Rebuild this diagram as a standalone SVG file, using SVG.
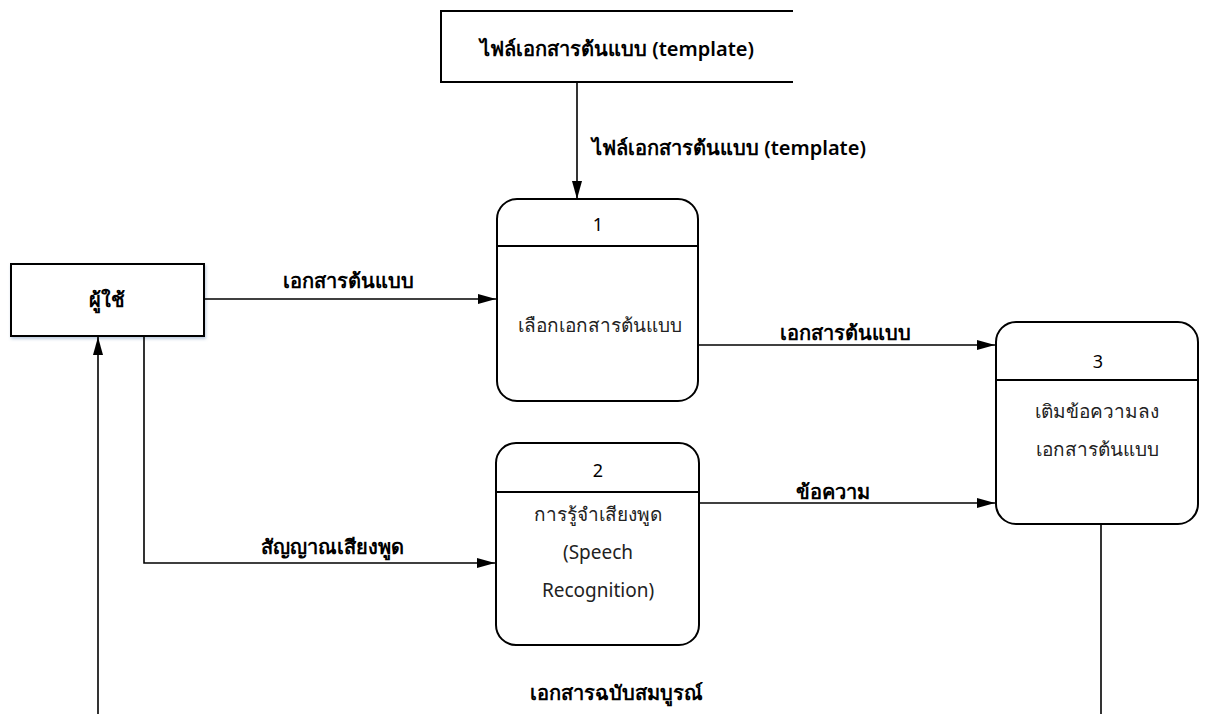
<svg xmlns="http://www.w3.org/2000/svg" width="1205" height="714" viewBox="0 0 1205 714">
<defs>
<marker id="ahv" markerWidth="18" markerHeight="10" refX="18" refY="5" orient="auto" markerUnits="userSpaceOnUse">
<path d="M0,0 L18,5 L0,10 z" fill="#000"/>
</marker>
<filter id="sh" x="-10%" y="-10%" width="130%" height="130%">
<feDropShadow dx="1" dy="2" stdDeviation="1.5" flood-color="#8fa8c8" flood-opacity="0.6"/>
</filter>
</defs>
<style>
text{font-family:"Noto Sans","DejaVu Sans","Liberation Sans",sans-serif;font-size:19px;fill:#000;text-anchor:middle;}
.b{font-weight:600;font-size:20px;}
.n{font-size:18px;}
.l{font-weight:normal;fill:#222;}
.s{text-anchor:start;}
.box{fill:#fff;stroke:#000;stroke-width:2;}
.ln{fill:none;stroke:#000;stroke-width:2;}
.c{fill:none;stroke:#000;stroke-width:1.6;}
</style>
<rect width="1205" height="714" fill="#fff"/>
<g id="store">
<rect x="441" y="11" width="352" height="71" fill="#fff"/>
<path class="ln" d="M793,11 H441 V82 H793"/>
<text class="b" x="617" y="56">ไฟล์เอกสารต้นแบบ (template)</text>
</g>
<g id="user">
<rect class="box" x="11" y="264" width="193" height="72" filter="url(#sh)"/>
<text class="b" x="107" y="307">ผู้ใช้</text>
</g>
<g id="p1">
<rect class="box" x="497" y="199" width="201" height="202" rx="20"/>
<line class="ln" x1="497" y1="246" x2="698" y2="246"/>
<text class="n" x="598" y="231">1</text>
<text class="l" x="600" y="332">เลือกเอกสารต้นแบบ</text>
</g>
<g id="p2">
<rect class="box" x="496" y="443" width="203" height="202" rx="20"/>
<line class="ln" x1="496" y1="492" x2="699" y2="492"/>
<text class="n" x="598" y="477">2</text>
<text class="l" x="598" y="521">การรู้จำเสียงพูด</text>
<text class="l" x="598" y="559">(Speech</text>
<text class="l" x="598" y="597">Recognition)</text>
</g>
<g id="p3">
<rect class="box" x="996" y="322" width="202" height="202" rx="20"/>
<line class="ln" x1="996" y1="380" x2="1198" y2="380"/>
<text class="n" x="1098" y="368">3</text>
<text class="l" x="1097" y="418">เติมข้อความลง</text>
<text class="l" x="1097" y="456">เอกสารต้นแบบ</text>
</g>
<g id="connectors">
<path class="c" d="M577,82 V199" marker-end="url(#ahv)"/>
<text class="b s" x="592" y="155">ไฟล์เอกสารต้นแบบ (template)</text>
<path class="c" d="M204,299 H496" marker-end="url(#ahv)"/>
<text class="b" x="348" y="288">เอกสารต้นแบบ</text>
<path class="c" d="M698,345 H995" marker-end="url(#ahv)"/>
<text class="b" x="845" y="340">เอกสารต้นแบบ</text>
<path class="c" d="M699,503 H995" marker-end="url(#ahv)"/>
<text class="b" x="833" y="499">ข้อความ</text>
<path class="c" d="M144,336 V563 H495" marker-end="url(#ahv)"/>
<text class="b" x="332" y="554">สัญญาณเสียงพูด</text>
<path class="c" d="M1101,524 V714"/>
<path class="c" d="M98,714 V337" marker-end="url(#ahv)"/>
<text class="b" x="616" y="700">เอกสารฉบับสมบูรณ์</text>
</g>
</svg>
